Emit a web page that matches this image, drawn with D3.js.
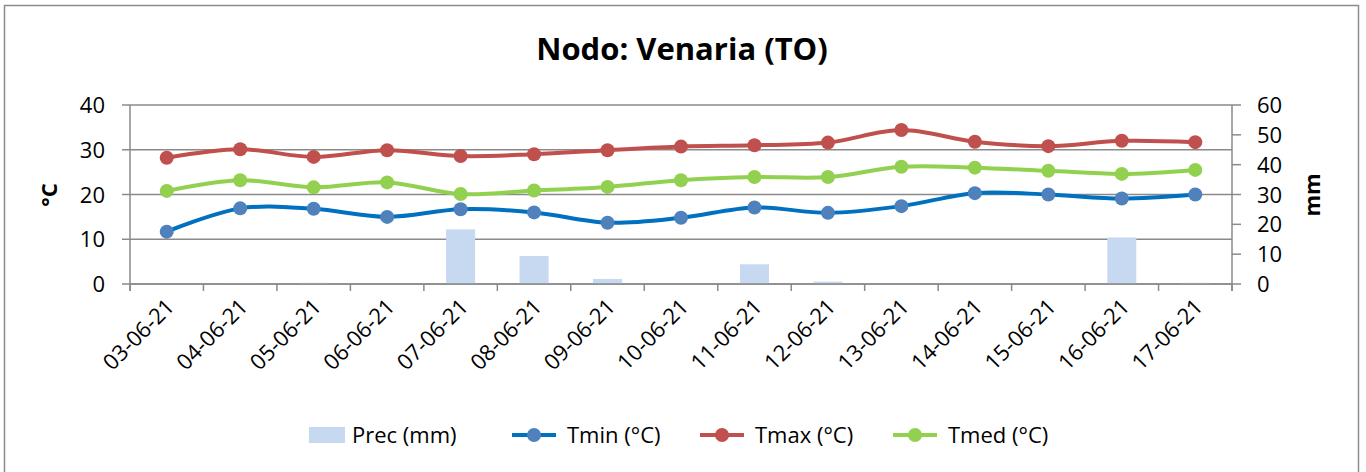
<!DOCTYPE html>
<html>
<head>
<meta charset="utf-8">
<script src="https://cdn.jsdelivr.net/npm/d3@7"></script>
<style>
	html, body { margin: 0; padding: 0; background: #ffffff; }
	svg { display: block; }
</style>
</head>
<body>
<svg id="chart" width="1366" height="472"></svg>
<script>
// 날짜
var days = ["03-06-21", "04-06-21", "05-06-21", "06-06-21", "07-06-21", "08-06-21", "09-06-21", "10-06-21",
	"11-06-21", "12-06-21", "13-06-21", "14-06-21", "15-06-21", "16-06-21", "17-06-21"];

// 강수량 (mm)
var prec = [0, 0.2, 0.4, 0, 18.3, 9.4, 1.7, 0, 6.6, 0.8, 0, 0, 0, 15.6, 0.4];

// 기온 (°C)
var tmin = [11.7, 16.9, 16.8, 15.0, 16.7, 16.0, 13.7, 14.8, 17.1, 15.9, 17.4, 20.3, 20.0, 19.1, 20.0];
var tmax = [28.2, 30.1, 28.4, 29.9, 28.6, 29.0, 29.9, 30.7, 31.0, 31.6, 34.4, 31.8, 30.8, 32.0, 31.7];
var tmed = [20.8, 23.2, 21.6, 22.7, 20.1, 20.9, 21.7, 23.2, 23.9, 23.9, 26.2, 26.0, 25.3, 24.6, 25.5];

var tempTicks = [0, 10, 20, 30, 40];
var precTicks = [0, 10, 20, 30, 40, 50, 60];

var series = [
	{ name : "Tmin (°C)", values : tmin, line : "#0070c0", marker : "#4f81bd" },
	{ name : "Tmax (°C)", values : tmax, line : "#c0504d", marker : "#c0504d" },
	{ name : "Tmed (°C)", values : tmed, line : "#92d050", marker : "#92d050" }
];

var chartObj = {

	svg : null,

	font : "Open Sans, Noto Sans, sans-serif",

	// 그리드 영역
	box : { left : 130, right : 1232, top : 105, bottom : 284 },

	x : null,
	yTemp : null,
	yPrec : null,

	init : function(id) {
		var that = this;
		that.svg = d3.select(id);

		that.x = d3.scaleBand().domain(days).range([that.box.left, that.box.right]).paddingInner(0.6).paddingOuter(0.3);
		that.yTemp = d3.scaleLinear().domain([0, 40]).range([that.box.bottom, that.box.top]);
		that.yPrec = d3.scaleLinear().domain([0, 60]).range([that.box.bottom, that.box.top]);
	},

	draw : function() {
		var that = this;
		that.drawFrame();
		that.drawGrid();
		that.drawBars();
		that.drawAxes();
		that.drawLines();
		that.drawTitle();
		that.drawLegend();
	},

	drawFrame : function() {
		var that = this;
		that.svg.append("rect").attr("x", 4.5).attr("y", 5.5).attr("width", 1354).attr("height", 480)
			.attr("fill", "#ffffff").attr("stroke", "#8c8c8c").attr("stroke-width", 1.5);
	},

	drawGrid : function() {
		var that = this;
		that.svg.append("g").selectAll("line").data(tempTicks).join("line")
			.attr("x1", that.box.left - 8).attr("x2", that.box.right)
			.attr("y1", function(d) { return that.yTemp(d); })
			.attr("y2", function(d) { return that.yTemp(d); })
			.attr("stroke", "#8a8a8a").attr("stroke-width", 1.5);
	},

	drawBars : function() {
		var that = this;
		var bw = 29;
		that.svg.append("g").selectAll("rect").data(prec).join("rect")
			.attr("x", function(d, i) { return that.x(days[i]) + that.x.bandwidth() / 2 - bw / 2; })
			.attr("y", function(d) { return that.yPrec(d); })
			.attr("width", bw)
			.attr("height", function(d) { return that.box.bottom - that.yPrec(d); })
			.attr("fill", "#c6d9f1");
	},

	drawAxes : function() {
		var that = this;
		var b = that.box;
		var band = (b.right - b.left) / days.length;

		// X 축 (칸 경계 눈금)
		var xTicks = d3.range(days.length + 1).map(function(i) { return b.left + i * band; });
		that.svg.append("line").attr("x1", b.left).attr("x2", b.right).attr("y1", b.bottom).attr("y2", b.bottom)
			.attr("stroke", "#8a8a8a").attr("stroke-width", 1.5);
		that.svg.append("g").selectAll("line").data(xTicks).join("line")
			.attr("x1", function(d) { return d; }).attr("x2", function(d) { return d; })
			.attr("y1", b.bottom).attr("y2", b.bottom + 7)
			.attr("stroke", "#8a8a8a").attr("stroke-width", 1.5);

		// 왼쪽 / 오른쪽 축선
		that.svg.append("line").attr("x1", b.left).attr("x2", b.left).attr("y1", b.top).attr("y2", b.bottom + 7)
			.attr("stroke", "#8a8a8a").attr("stroke-width", 1.5);
		that.svg.append("line").attr("x1", b.right).attr("x2", b.right).attr("y1", b.top).attr("y2", b.bottom + 7)
			.attr("stroke", "#8a8a8a").attr("stroke-width", 1.5);

		// 오른쪽 눈금
		that.svg.append("g").selectAll("line").data(precTicks).join("line")
			.attr("x1", b.right).attr("x2", b.right + 9)
			.attr("y1", function(d) { return that.yPrec(d); })
			.attr("y2", function(d) { return that.yPrec(d); })
			.attr("stroke", "#8a8a8a").attr("stroke-width", 1.5);

		// 눈금 라벨
		that.svg.append("g").selectAll("text").data(tempTicks).join("text")
			.attr("x", 105).attr("y", function(d) { return that.yTemp(d) + 8; })
			.attr("text-anchor", "end").attr("font-family", that.font).attr("font-size", "22px")
			.attr("fill", "#000000").text(function(d) { return d; });

		that.svg.append("g").selectAll("text").data(precTicks).join("text")
			.attr("x", 1257).attr("y", function(d) { return that.yPrec(d) + 8; })
			.attr("text-anchor", "start").attr("font-family", that.font).attr("font-size", "22px")
			.attr("fill", "#000000").text(function(d) { return d; });

		that.svg.append("g").selectAll("text").data(days).join("text")
			.attr("transform", function(d) {
				var cx = that.x(d) + that.x.bandwidth() / 2;
				return "translate(" + (cx + 9) + "," + 308 + ") rotate(-45)";
			})
			.attr("text-anchor", "end").attr("font-family", that.font).attr("font-size", "22px")
			.attr("fill", "#000000").text(function(d) { return d; });

		// 축 제목
		that.svg.append("text").attr("transform", "translate(57,195) rotate(-90)")
			.attr("text-anchor", "middle").attr("font-family", that.font).attr("font-size", "22px")
			.attr("font-weight", "bold").attr("fill", "#000000").text("°C");
		that.svg.append("text").attr("transform", "translate(1320,195) rotate(-90)")
			.attr("text-anchor", "middle").attr("font-family", that.font).attr("font-size", "22px")
			.attr("font-weight", "bold").attr("fill", "#000000").text("mm");
	},

	drawLines : function() {
		var that = this;
		var cx = function(i) { return that.x(days[i]) + that.x.bandwidth() / 2; };
		var line = d3.line()
			.x(function(d, i) { return cx(i); })
			.y(function(d) { return that.yTemp(d); })
			.curve(d3.curveCatmullRom.alpha(0.5));

		series.forEach(function(s) {
			var g = that.svg.append("g");
			g.append("path").datum(s.values).attr("d", line)
				.attr("fill", "none").attr("stroke", s.line).attr("stroke-width", 4).attr("stroke-linejoin", "round");
			g.selectAll("circle").data(s.values).join("circle")
				.attr("cx", function(d, i) { return cx(i); })
				.attr("cy", function(d) { return that.yTemp(d); })
				.attr("r", 7).attr("fill", s.marker);
		});
	},

	drawTitle : function() {
		var that = this;
		that.svg.append("text").attr("x", 682).attr("y", 60).attr("text-anchor", "middle")
			.attr("font-family", that.font).attr("font-size", "31px").attr("font-weight", "bold")
			.attr("fill", "#000000").text("Nodo: Venaria (TO)");
	},

	drawLegend : function() {
		var that = this;
		var y = 435;
		var g = that.svg.append("g");

		g.append("rect").attr("x", 309).attr("y", y - 8).attr("width", 36).attr("height", 16).attr("fill", "#c6d9f1");
		g.append("text").attr("x", 352).attr("y", y + 8).attr("font-family", that.font).attr("font-size", "22px")
			.attr("fill", "#000000").text("Prec (mm)");

		var pos = [512, 700, 893];
		series.forEach(function(s, i) {
			var x0 = pos[i];
			g.append("line").attr("x1", x0).attr("x2", x0 + 44).attr("y1", y).attr("y2", y)
				.attr("stroke", s.line).attr("stroke-width", 4);
			g.append("circle").attr("cx", x0 + 22).attr("cy", y).attr("r", 7).attr("fill", s.marker);
			g.append("text").attr("x", x0 + 55).attr("y", y + 8).attr("font-family", that.font).attr("font-size", "22px")
				.attr("fill", "#000000").text(s.name);
		});
	}
};

chartObj.init("#chart");
chartObj.draw();
</script>
</body>
</html>
